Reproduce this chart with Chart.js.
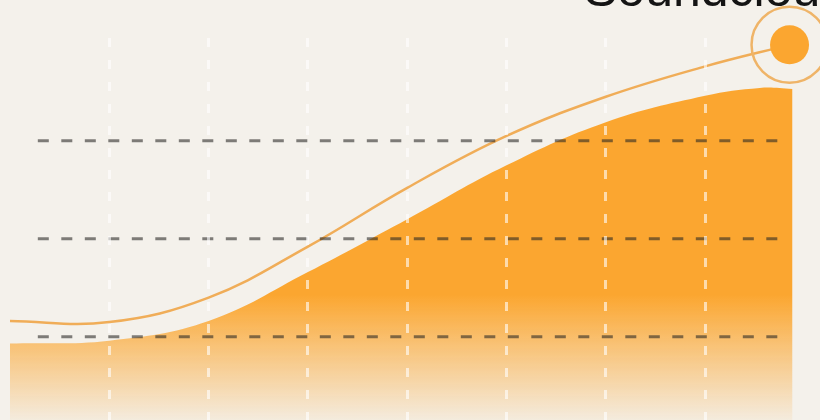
<!DOCTYPE html>
<html>
<head>
<meta charset="utf-8">
<script src="https://cdn.jsdelivr.net/npm/chart.js@4.4.1/dist/chart.umd.min.js"></script>
<style>
  html, body { margin: 0; padding: 0; background: #f4f1eb; overflow: hidden; }
  #wrap { position: relative; width: 820px; height: 420px; }
</style>
</head>
<body>
<div id="wrap"><canvas id="growthChart" width="820" height="420"></canvas></div>
<script>
// area (filled) series
const areaX = [0, 1, 2, 3, 4, 5, 6, 7, 7.55, 7.88];
const areaValues = [9.3, 9.6, 11.6, 16.6, 22.0, 27.5, 31.9, 34.6, 35.4, 35.3];

// thin line series that rides above the area
const lineX = [0, 1, 2, 3, 4, 5, 6, 7, 7.85];
const lineValues = [11.6, 11.5, 14.0, 19.2, 25.2, 30.5, 34.5, 37.6, 39.8];

// dashed reference levels and vertical guides
const refLevels = [10, 20, 30];
const refFrom = 0.28;
const refTo = 7.77;
const guideTicks = [1, 2, 3, 4, 5, 6, 7];

const seriesLabel = 'Soundcloud';

const ctx = document.getElementById('growthChart').getContext('2d');

const lastIdx = lineValues.length - 1;
const endPoint = [{ x: lineX[lastIdx], y: lineValues[lastIdx] }];

function areaGradient(context) {
    const c = context.chart.ctx;
    const g = c.createLinearGradient(0, 295, 0, 420);
    g.addColorStop(0, 'rgba(251,166,48,1)');
    g.addColorStop(1, 'rgba(251,166,48,0.07)');
    return g;
}

const labelPlugin = {
    id: 'labelPlugin',
    afterDraw(chart) {
        const c = chart.ctx;
        c.save();
        c.font = '50px "Liberation Sans", Arial, sans-serif';
        c.fillStyle = '#141414';
        c.textBaseline = 'alphabetic';
        c.fillText(seriesLabel, 584, 6);
        c.restore();
    }
};

const refSets = refLevels.map(v => ({
    label: 'ref ' + v,
    data: [{ x: refFrom, y: v }, { x: refTo, y: v }],
    borderColor: 'rgba(40,38,35,0.58)',
    borderWidth: 3,
    borderDash: [11, 12.5],
    pointRadius: 0,
    fill: false,
    order: 1
}));

new Chart(ctx, {
    type: 'line',
    data: {
        datasets: [
            {
                label: 'ring',
                data: endPoint,
                showLine: false,
                pointRadius: 38,
                pointBorderWidth: 2.5,
                pointBorderColor: '#efb468',
                pointBackgroundColor: 'rgba(0,0,0,0)',
                clip: false,
                order: 2
            },
            {
                label: 'dot',
                data: endPoint,
                showLine: false,
                pointRadius: 19.5,
                pointBorderWidth: 0,
                pointBackgroundColor: '#fba630',
                clip: false,
                order: 2
            },
            ...refSets,
            {
                label: 'line',
                data: lineX.map((x, i) => ({ x: x, y: lineValues[i] })),
                borderColor: '#f0ad58',
                borderWidth: 2.5,
                pointRadius: 0,
                tension: 0.4,
                fill: false,
                clip: false,
                order: 4
            },
            {
                label: 'area',
                data: areaX.map((x, i) => ({ x: x, y: areaValues[i] })),
                borderWidth: 0,
                borderColor: 'rgba(0,0,0,0)',
                backgroundColor: areaGradient,
                pointRadius: 0,
                tension: 0.4,
                fill: 'start',
                order: 5
            }
        ]
    },
    options: {
        responsive: false,
        animation: false,
        devicePixelRatio: 1,
        layout: { autoPadding: false, padding: { left: 10, right: 25.5, top: 38, bottom: 0 } },
        scales: {
            x: {
                type: 'linear',
                min: 0,
                max: 7.9,
                afterBuildTicks: (scale) => {
                    scale.ticks = guideTicks.map(v => ({ value: v }));
                },
                ticks: { display: false },
                grid: {
                    color: 'rgba(255,255,255,0.6)',
                    lineWidth: 3,
                    drawTicks: false,
                    z: 1
                },
                border: { display: false, dash: [9, 13] }
            },
            y: {
                display: false,
                min: 1.5,
                max: 40.5
            }
        },
        plugins: {
            legend: { display: false },
            tooltip: { enabled: false },
            title: { display: false }
        }
    },
    plugins: [labelPlugin]
});
</script>
</body>
</html>
